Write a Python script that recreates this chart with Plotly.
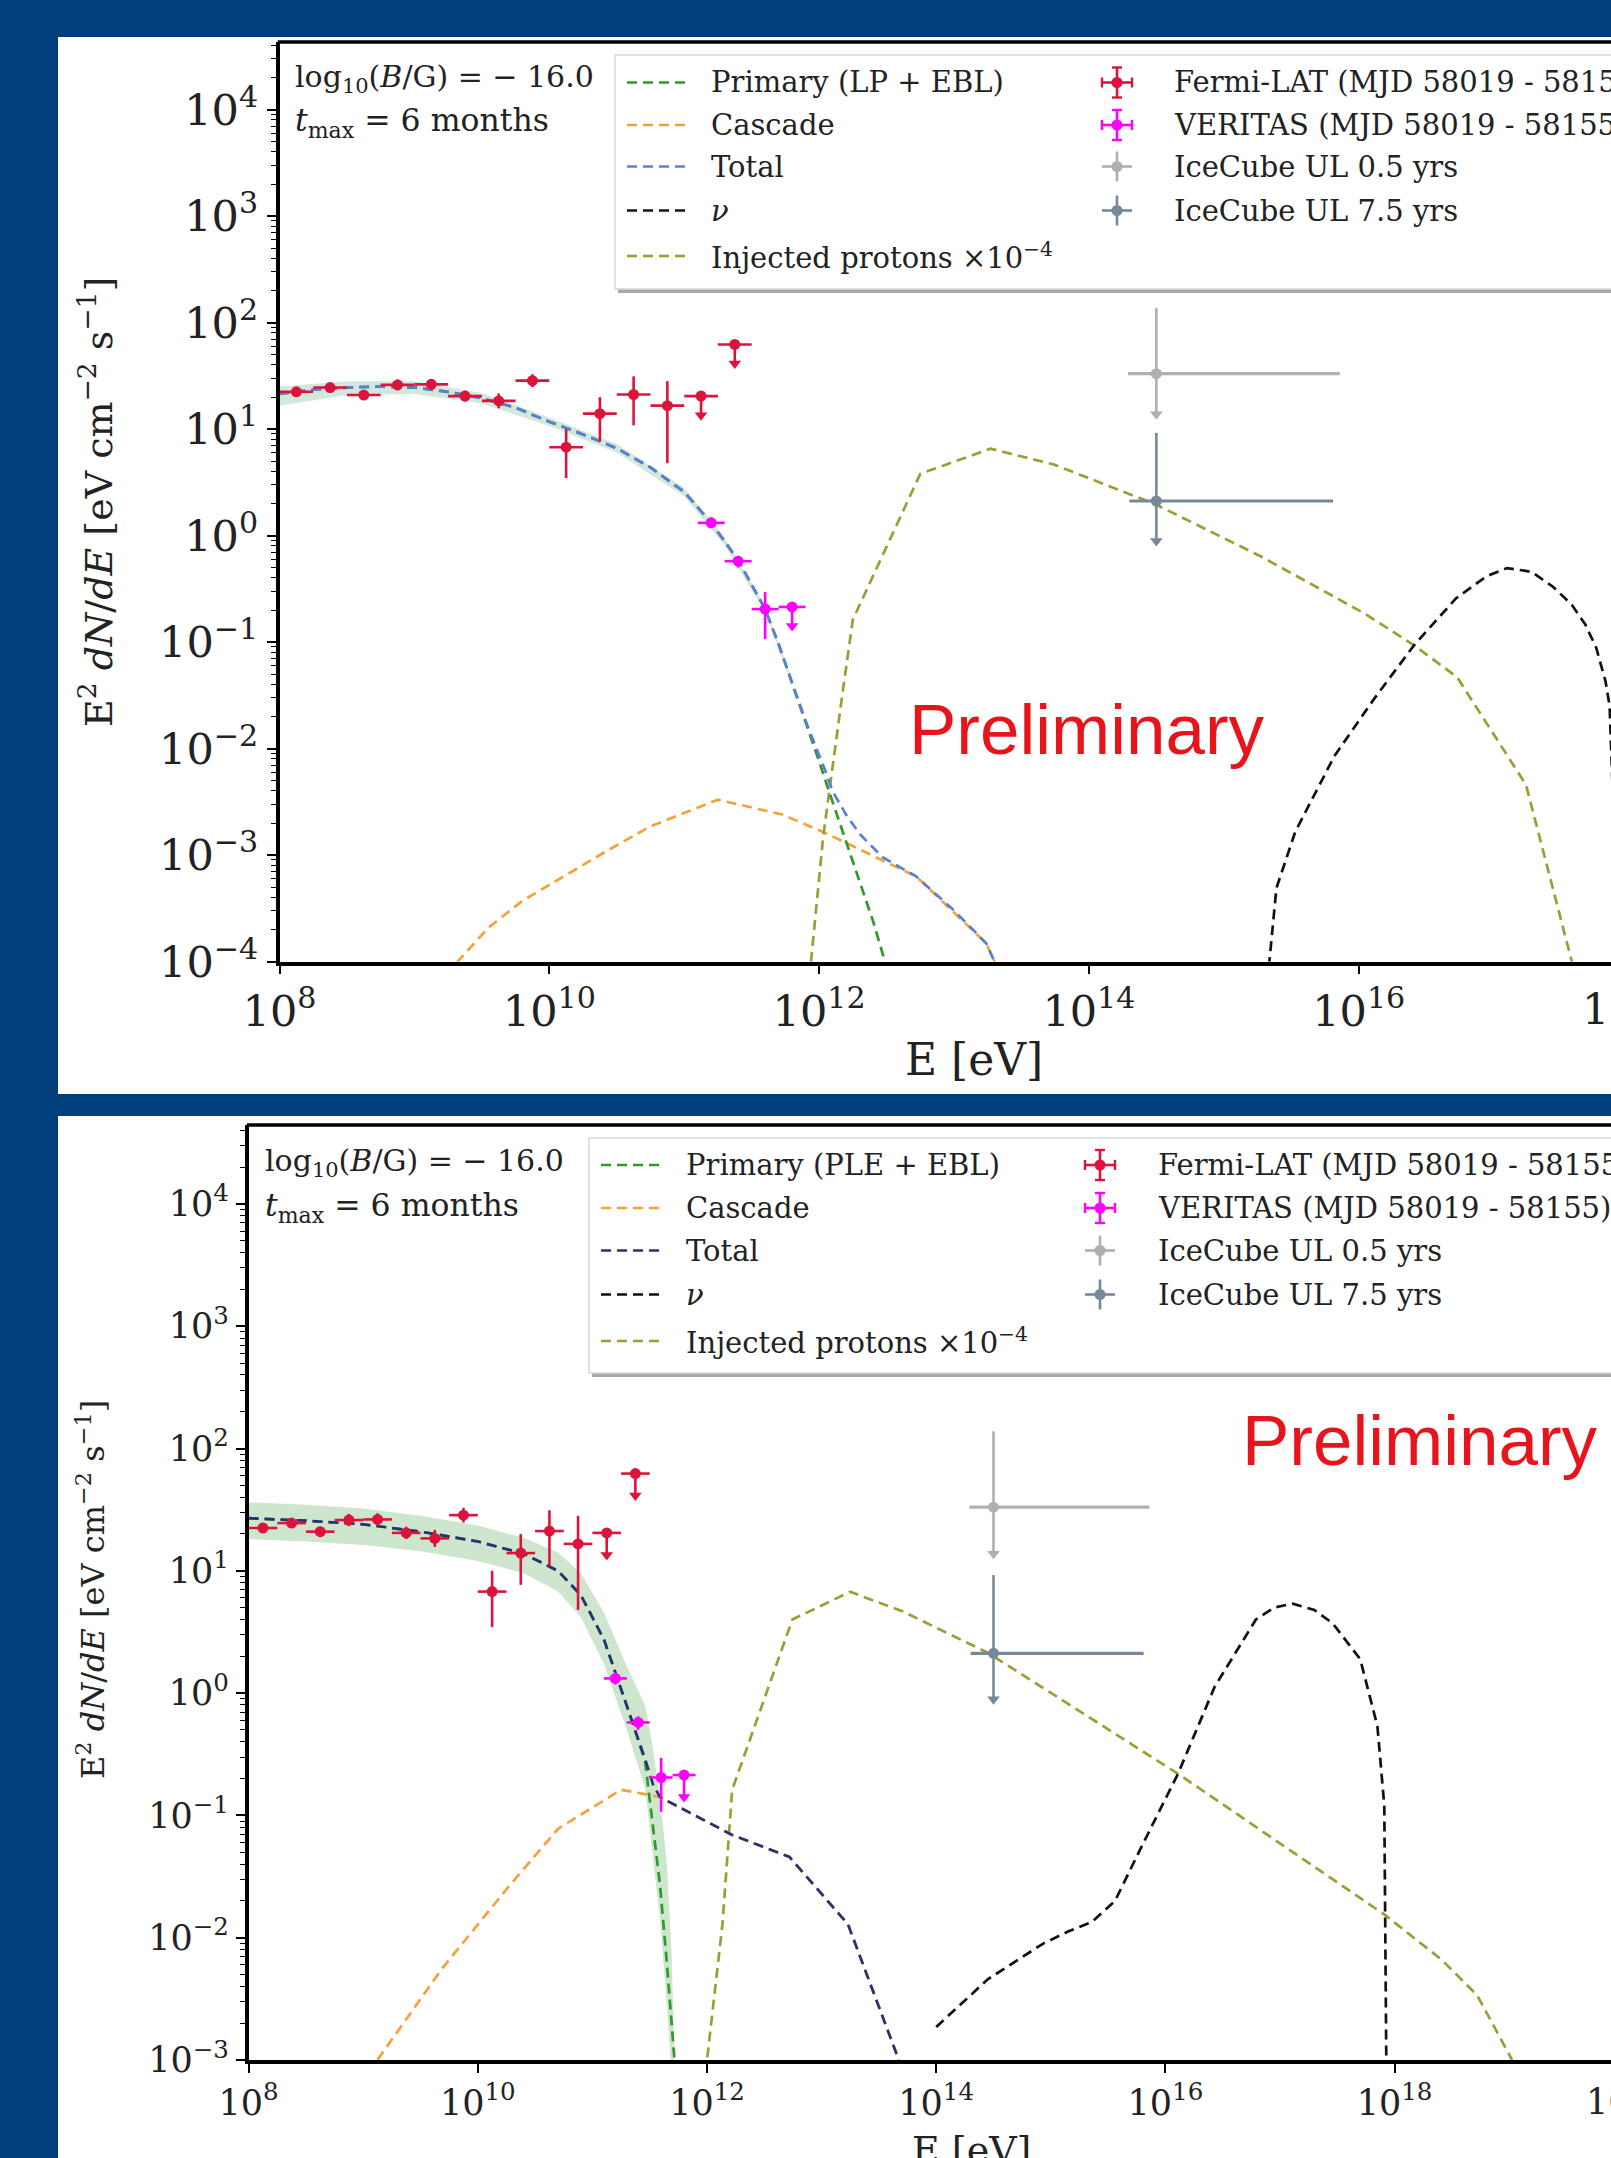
import numpy as np
import plotly.graph_objects as go

W, H = 1611, 2158
BG = '#003f7c'
SERIF = 'DejaVu Serif'

# ---------------- measured data (log10 values) ----------------
fermi_logE = [8.125, 8.375, 8.625, 8.875, 9.125, 9.375, 9.625, 9.875,
              10.125, 10.375, 10.625, 10.875, 11.125, 11.375]
fermi_logF = [1.35, 1.39, 1.32, 1.415, 1.42, 1.31, 1.265, 1.455,
              0.83, 1.145, 1.325, 1.22, 1.31, 1.795]
fermi_up = [0.04, 0.04, 0.04, 0.05, 0.05, 0.05, 0.07, 0.06, 0.17, 0.155, 0.17, 0.23, 0.0, 0.0]
fermi_dn = [0.04, 0.04, 0.04, 0.05, 0.05, 0.05, 0.07, 0.06, 0.29, 0.26, 0.29, 0.54, 0.18, 0.18]
fermi_isUL = [0] * 12 + [1, 1]
fermi_halfbin = 0.125

veritas_logE = [11.2, 11.4, 11.6, 11.8]
veritas_logF = [0.12, -0.24, -0.69, -0.67]
veritas_up = [0.05, 0.05, 0.16, 0.0]
veritas_dn = [0.05, 0.06, 0.28, 0.18]
veritas_isUL = [0, 0, 0, 1]
veritas_halfbin = 0.1

icecube_names = ['IceCube UL 0.5 yrs', 'IceCube UL 7.5 yrs']
icecube_logE = [14.5, 14.5]
icecube_logE_lo = [14.29, 14.30]
icecube_logE_hi = [15.86, 15.81]
icecube_logF = [1.52, 0.325]
icecube_logF_top = [2.14, 0.965]
icecube_logF_tip = [1.14, -0.05]

# ---- top panel (LP model) ----
lp_prim_logE = [8.0, 8.25, 8.5, 8.75, 9.0, 9.25, 9.5, 9.75, 10.0, 10.25, 10.5, 10.75, 11.0,
                11.2, 11.4, 11.6, 11.7, 11.8, 11.9, 12.0, 12.1, 12.2, 12.3, 12.4, 12.5]
lp_prim_logF = [1.33, 1.37, 1.39, 1.40, 1.39, 1.35, 1.29, 1.20, 1.07, 0.95, 0.82, 0.64, 0.41,
                0.12, -0.23, -0.69, -1.02, -1.38, -1.75, -2.12, -2.5, -2.88, -3.25, -3.62, -4.05]
lp_tot_logE = [8.0, 8.25, 8.5, 8.75, 9.0, 9.25, 9.5, 9.75, 10.0, 10.25, 10.5, 10.75, 11.0,
               11.2, 11.4, 11.6, 11.7, 11.8, 11.9, 12.0, 12.05, 12.1, 12.2, 12.3, 12.47, 12.72,
               13.0, 13.24, 13.30, 13.33]
lp_tot_logF = [1.33, 1.37, 1.39, 1.40, 1.39, 1.35, 1.29, 1.20, 1.07, 0.95, 0.82, 0.64, 0.41,
               0.12, -0.23, -0.69, -1.02, -1.38, -1.74, -2.06, -2.22, -2.40, -2.62, -2.80, -3.02, -3.2,
               -3.52, -3.83, -4.0, -4.3]
lp_band_logE = [8.0, 8.5, 9.0, 9.5, 10.0, 10.5, 11.0, 11.3, 11.6, 11.8]
lp_band_hi = [1.40, 1.45, 1.45, 1.34, 1.11, 0.86, 0.45, -0.02, -0.66, -1.35]
lp_band_lo = [1.22, 1.32, 1.33, 1.24, 1.03, 0.78, 0.37, -0.09, -0.72, -1.41]
lp_casc_logE = [9.25, 9.32, 9.55, 9.8, 10.0, 10.4, 10.75, 11.25, 11.73, 12.06, 12.47, 12.72, 13.24, 13.30, 13.33]
lp_casc_logF = [-4.3, -4.0, -3.68, -3.43, -3.28, -2.98, -2.73, -2.48, -2.62, -2.80, -3.05, -3.2, -3.83, -4.0, -4.3]
lp_prot_logE = [11.9, 11.94, 12.03, 12.105, 12.18, 12.25, 12.75, 13.27, 13.74, 14.49, 15.28,
                16.04, 16.41, 16.73, 17.24, 17.58, 17.62]
lp_prot_logF = [-4.6, -4.0, -2.83, -2.1, -1.42, -0.79, 0.58, 0.816, 0.668, 0.296, -0.199,
                -0.729, -1.03, -1.33, -2.34, -4.0, -4.3]
lp_nu_logE = [15.30, 15.336, 15.39, 15.53, 15.82, 16.11, 16.41, 16.72, 16.95, 17.10, 17.28,
              17.44, 17.58, 17.68, 17.76, 17.83, 17.86, 17.88, 17.92]
lp_nu_logF = [-4.5, -4.0, -3.31, -2.78, -2.07, -1.54, -1.03, -0.59, -0.38, -0.305, -0.34,
              -0.48, -0.65, -0.835, -1.05, -1.37, -1.6, -2.3, -4.5]

# ---- bottom panel (PLE model) ----
ple_prim_logE = [8.0, 8.5, 9.0, 9.5, 10.0, 10.4, 10.7, 10.9, 11.1, 11.3, 11.46, 11.52, 11.59,
                 11.65, 11.715, 11.75]
ple_prim_logF = [1.43, 1.41, 1.38, 1.32, 1.24, 1.14, 1.00, 0.80, 0.44, -0.10, -0.56, -1.05, -1.57,
                 -2.21, -3.0, -3.4]
ple_tot_logE = [8.0, 8.5, 9.0, 9.5, 10.0, 10.4, 10.7, 10.9, 11.1, 11.3, 11.46, 11.53, 11.59,
                12.22, 12.72, 13.23, 13.67, 13.72]
ple_tot_logF = [1.43, 1.41, 1.38, 1.32, 1.24, 1.14, 1.00, 0.80, 0.44, -0.10, -0.54, -0.75, -0.85,
                -1.16, -1.34, -1.89, -2.99, -3.2]
ple_band_logE = [8.0, 8.5, 9.0, 9.5, 10.0, 10.4, 10.7, 10.9, 11.1, 11.3, 11.46, 11.52, 11.59,
                 11.65, 11.69, 11.72]
ple_band_hi = [1.56, 1.54, 1.51, 1.45, 1.37, 1.27, 1.15, 0.98, 0.66, 0.22, -0.10, -0.40, -0.85,
               -1.40, -2.10, -3.10]
ple_band_lo = [1.26, 1.24, 1.21, 1.16, 1.08, 0.98, 0.83, 0.62, 0.24, -0.30, -0.78, -1.28, -1.85,
               -2.55, -3.10, -3.50]
ple_casc_logE = [9.05, 9.124, 9.69, 10.28, 10.70, 11.25, 11.59, 12.22, 12.72, 13.23, 13.67, 13.72]
ple_casc_logF = [-3.25, -3.0, -2.25, -1.57, -1.11, -0.79, -0.85, -1.16, -1.34, -1.89, -2.99, -3.2]
ple_prot_logE = [11.96, 12.0, 12.135, 12.22, 12.745, 13.25, 13.71, 14.45, 16.11, 17.02, 17.91,
                 18.41, 18.72, 19.02, 19.06]
ple_prot_logF = [-3.5, -3.0, -1.89, -0.79, 0.602, 0.828, 0.667, 0.33, -0.66, -1.24, -1.81,
                 -2.18, -2.47, -2.99, -3.3]
ple_nu_logE = [14.0, 14.45, 14.93, 15.15, 15.36, 15.56, 15.80, 16.11, 16.43, 16.79, 16.95, 17.11,
               17.30, 17.46, 17.70, 17.85, 17.91, 17.925, 17.93]
ple_nu_logF = [-2.73, -2.34, -2.05, -1.95, -1.87, -1.70, -1.24, -0.66, 0.052, 0.602, 0.70, 0.731,
               0.68, 0.57, 0.278, -0.27, -0.92, -2.99, -3.3]

# ---------------- layout geometry (pixels) ----------------
PANELS = [
    dict(xa='x', ya='y', left=279.5, top=42.0, bottom=961.6, ppd_x=134.9, ymin=-4, ppd_y=106.5,
         tickfs=43, model='LP', total_color='#5b7fd8', band_color='rgba(70,160,110,0.24)',
         white=(58, 37, 1094)),
    dict(xa='x2', ya='y2', left=248.6, top=1125.0, bottom=2060.0, ppd_x=114.6, ymin=-3, ppd_y=122.3,
         tickfs=35, model='PLE', total_color='#2a2f78', band_color='rgba(60,160,60,0.26)',
         white=(58, 1116, H + 5)),
]
GREEN, ORANGE, BLACK, OLIVE = '#2e9a2e', '#f7a13a', '#111111', '#9d9d35'
CRIMSON, MAGENTA, ICE1, ICE2 = '#dc143c', '#ff00ff', '#b0b0b0', '#778899'
DASH = '10px,6px'

def P(x):
    return x / W

def Q(y):
    return 1 - y / H

fig = go.Figure()
shapes = []
annotations = []

def lin(a):
    return [10 ** v for v in a]

for k, pn in enumerate(PANELS):
    xa, ya = pn['xa'], pn['ya']
    if pn['model'] == 'LP':
        prim = (lp_prim_logE, lp_prim_logF); tot = (lp_tot_logE, lp_tot_logF)
        band = (lp_band_logE, lp_band_hi, lp_band_lo)
        casc = (lp_casc_logE, lp_casc_logF); prot = (lp_prot_logE, lp_prot_logF)
        nu = (lp_nu_logE, lp_nu_logF)
    else:
        prim = (ple_prim_logE, ple_prim_logF); tot = (ple_tot_logE, ple_tot_logF)
        band = (ple_band_logE, ple_band_hi, ple_band_lo)
        casc = (ple_casc_logE, ple_casc_logF); prot = (ple_prot_logE, ple_prot_logF)
        nu = (ple_nu_logE, ple_nu_logF)

    bx = lin(band[0]) + lin(band[0][::-1])
    by = lin(band[1]) + lin(band[2][::-1])
    fig.add_trace(go.Scatter(x=bx, y=by, fill='toself', fillcolor=pn['band_color'],
                             line=dict(width=0), mode='lines', xaxis=xa, yaxis=ya,
                             hoverinfo='skip', showlegend=False))
    for (ex, ey), col in [(casc, ORANGE), (prot, OLIVE), (nu, BLACK), (prim, GREEN),
                          (tot, pn['total_color'])]:
        fig.add_trace(go.Scatter(x=lin(ex), y=lin(ey), mode='lines', xaxis=xa, yaxis=ya,
                                 line=dict(color=col, width=2.7, dash=DASH), showlegend=False))

    for le, lf, up, dn, isul, hb, col in [
            (fermi_logE, fermi_logF, fermi_up, fermi_dn, fermi_isUL, fermi_halfbin, CRIMSON),
            (veritas_logE, veritas_logF, veritas_up, veritas_dn, veritas_isUL, veritas_halfbin, MAGENTA)]:
        x = lin(le); y = lin(lf)
        ex_p = [10 ** (e + hb) - 10 ** e for e in le]
        ex_m = [10 ** e - 10 ** (e - hb) for e in le]
        ey_p = [10 ** (f + u) - 10 ** f for f, u in zip(lf, up)]
        ey_m = [10 ** f - 10 ** (f - d) for f, d in zip(lf, dn)]
        fig.add_trace(go.Scatter(
            x=x, y=y, mode='markers', xaxis=xa, yaxis=ya, showlegend=False,
            marker=dict(color=col, size=11, line=dict(width=0)),
            error_x=dict(type='data', symmetric=False, array=ex_p, arrayminus=ex_m,
                         color=col, thickness=2.6, width=0),
            error_y=dict(type='data', symmetric=False, array=ey_p, arrayminus=ey_m,
                         color=col, thickness=2.6, width=0)))
        ulx = [10 ** e for e, u in zip(le, isul) if u]
        uly = [10 ** (f - d) for f, d, u in zip(lf, dn, isul) if u]
        fig.add_trace(go.Scatter(x=ulx, y=uly, mode='markers', xaxis=xa, yaxis=ya, showlegend=False,
                                 marker=dict(symbol='triangle-down', color=col, size=11,
                                             line=dict(width=0))))
    for i in range(2):
        col = ICE1 if i == 0 else ICE2
        e, f = icecube_logE[i], icecube_logF[i]
        fig.add_trace(go.Scatter(
            x=[10 ** e], y=[10 ** f], mode='markers', xaxis=xa, yaxis=ya, showlegend=False,
            marker=dict(color=col, size=11),
            error_x=dict(type='data', symmetric=False, array=[10 ** icecube_logE_hi[i] - 10 ** e],
                         arrayminus=[10 ** e - 10 ** icecube_logE_lo[i]], color=col,
                         thickness=3.2, width=0),
            error_y=dict(type='data', symmetric=False, array=[10 ** icecube_logF_top[i] - 10 ** f],
                         arrayminus=[10 ** f - 10 ** icecube_logF_tip[i]], color=col,
                         thickness=2.6, width=0)))
        fig.add_trace(go.Scatter(x=[10 ** e], y=[10 ** icecube_logF_tip[i]], mode='markers',
                                 xaxis=xa, yaxis=ya, showlegend=False,
                                 marker=dict(symbol='triangle-down', color=col, size=11)))

# ---------------- axes ----------------
def pow_label(n):
    return '10<sup>%s</sup>' % (str(n) if n >= 0 else '\u2212' + str(-n))

layout_axes = {}
for k, pn in enumerate(PANELS):
    sfx = '' if k == 0 else '2'
    xmax = 8 + (W - pn['left']) / pn['ppd_x']
    ymax = pn['ymin'] + (pn['bottom'] - pn['top']) / pn['ppd_y']
    xt = [e for e in range(8, int(xmax) + 1, 2)]
    yt = [e for e in range(pn['ymin'], int(ymax) + 1)]
    common = dict(type='log', showline=True, linecolor='black', linewidth=3.5, ticks='outside',
                  ticklen=9, tickwidth=2, tickcolor='black', showgrid=False, zeroline=False,
                  mirror=False, automargin=False,
                  tickfont=dict(family=SERIF, size=pn['tickfs'], color='#222222'))
    layout_axes['xaxis' + sfx] = dict(common, domain=[P(pn['left']), 1.0], range=[8, xmax],
                                      tickmode='array', tickvals=[10 ** e for e in xt],
                                      ticktext=[pow_label(e) for e in xt], anchor='y' + sfx)
    layout_axes['yaxis' + sfx] = dict(common, domain=[Q(pn['bottom']), Q(pn['top'])],
                                      range=[pn['ymin'], ymax], anchor='x' + sfx,
                                      tickmode='array', tickvals=[10 ** e for e in yt],
                                      ticktext=[pow_label(e) for e in yt],
                                      minor=dict(ticks='outside', ticklen=5, tickwidth=1.2,
                                                 tickcolor='black', dtick='D1', showgrid=False))
    wx0, wy0, wy1 = pn['white']
    shapes.insert(0, dict(type='rect', xref='paper', yref='paper', x0=P(wx0), x1=1.01,
                          y0=Q(wy1), y1=Q(wy0), fillcolor='white', line=dict(width=0),
                          layer='below'))
    shapes.append(dict(type='line', xref='paper', yref='paper', x0=P(pn['left'] - 1.7), x1=1.01,
                       y0=Q(pn['top']), y1=Q(pn['top']), line=dict(color='black', width=3.5),
                       layer='above'))
    last = 18 if k == 0 else 20
    xl = pn['left'] + (last - 8) * pn['ppd_x']
    annotations.append(dict(xref='paper', yref='paper', x=P(xl), y=Q(pn['bottom'] + 14),
                            xanchor='center', yanchor='top', showarrow=False,
                            text=pow_label(last),
                            font=dict(family=SERIF, size=pn['tickfs'], color='#222222')))

# ---------------- text elements ----------------
def txt(x, y, s, size, color='#222222', xanchor='left', family=SERIF, angle=0):
    annotations.append(dict(xref='paper', yref='paper', x=P(x), y=Q(y), text=s, showarrow=False,
                            xanchor=xanchor, yanchor='middle', textangle=angle,
                            font=dict(family=family, size=size, color=color)))

ytitle = 'E<sup>2</sup> <i>dN</i>/<i>dE</i> [eV cm<sup>\u22122</sup> s<sup>\u22121</sup>]'
txt(96, 502, ytitle, 38, xanchor='center', angle=-90)
txt(91, 1590, ytitle, 32, xanchor='center', angle=-90)
txt(974, 1059, 'E [eV]', 44, xanchor='center')
txt(971, 2150, 'E [eV]', 38, xanchor='center')

txt(293, 79, 'log<sub>10</sub>(<i>B</i>/G) = \u2212 16.0', 30)
txt(293, 123, '<i>t</i><sub>max</sub> = 6 months', 31.5)
txt(263, 1163, 'log<sub>10</sub>(<i>B</i>/G) = \u2212 16.0', 30)
txt(263, 1207, '<i>t</i><sub>max</sub> = 6 months', 31.5)

txt(1087, 730, 'Preliminary', 71, color='#e8141c', xanchor='center',
    family='Liberation Sans, Arial')
txt(1420, 1440, 'Preliminary', 71, color='#e8141c', xanchor='center',
    family='Liberation Sans, Arial')

# ---------------- legends ----------------
def legend(box, col1x, col1_text_x, rows1, labels1, colors1, col2x, col2_text_x, labels2, colors2):
    x0, y0, y1 = box
    shapes.append(dict(type='rect', xref='paper', yref='paper', x0=P(x0 + 3), x1=1.02,
                       y0=Q(y1 + 4), y1=Q(y0 + 4), fillcolor='#a8a8a8', line=dict(width=0),
                       layer='above'))
    shapes.append(dict(type='rect', xref='paper', yref='paper', x0=P(x0), x1=1.02,
                       y0=Q(y1), y1=Q(y0), fillcolor='white', line=dict(color='#d8d8d8', width=1.5),
                       layer='above'))
    for yy, lab, c in zip(rows1, labels1, colors1):
        shapes.append(dict(type='line', xref='paper', yref='paper', x0=P(col1x[0]), x1=P(col1x[1]),
                           y0=Q(yy), y1=Q(yy), line=dict(color=c, width=2.6, dash=DASH),
                           layer='above'))
        txt(col1_text_x, yy, lab, 29)
    for j, (yy, lab, c) in enumerate(zip(rows1[:4], labels2, colors2)):
        arm = 15
        shapes.append(dict(type='line', xref='paper', yref='paper', x0=P(col2x - arm), x1=P(col2x + arm),
                           y0=Q(yy), y1=Q(yy), line=dict(color=c, width=2.6), layer='above'))
        shapes.append(dict(type='line', xref='paper', yref='paper', x0=P(col2x), x1=P(col2x),
                           y0=Q(yy - arm), y1=Q(yy + arm), line=dict(color=c, width=2.6), layer='above'))
        if j < 2:
            for s in (-1, 1):
                shapes.append(dict(type='line', xref='paper', yref='paper',
                                   x0=P(col2x + s * arm), x1=P(col2x + s * arm),
                                   y0=Q(yy - 5), y1=Q(yy + 5), line=dict(color=c, width=2.4),
                                   layer='above'))
                shapes.append(dict(type='line', xref='paper', yref='paper',
                                   x0=P(col2x - 5), x1=P(col2x + 5),
                                   y0=Q(yy + s * arm), y1=Q(yy + s * arm),
                                   line=dict(color=c, width=2.4), layer='above'))
        r = 5.5
        shapes.append(dict(type='circle', xref='paper', yref='paper', x0=P(col2x - r), x1=P(col2x + r),
                           y0=Q(yy + r), y1=Q(yy - r), fillcolor=c, line=dict(width=0), layer='above'))
        txt(col2_text_x, yy, lab, 29)

labels2 = ['Fermi-LAT (MJD 58019 - 58155)', 'VERITAS (MJD 58019 - 58155)'] + icecube_names
colors2 = [CRIMSON, MAGENTA, ICE1, ICE2]
legend((615, 55, 289), (627, 687), 709, [82.5, 125, 166.5, 210.5, 256],
       ['Primary (LP + EBL)', 'Cascade', 'Total', '<i>\u03bd</i>', 'Injected protons \u00d710<sup>\u22124</sup>'],
       [GREEN, ORANGE, PANELS[0]['total_color'], BLACK, OLIVE], 1117, 1172, labels2, colors2)
legend((589, 1138, 1373), (601, 661), 684, [1165, 1208, 1250.5, 1294.5, 1341],
       ['Primary (PLE + EBL)', 'Cascade', 'Total', '<i>\u03bd</i>', 'Injected protons \u00d710<sup>\u22124</sup>'],
       [GREEN, ORANGE, PANELS[1]['total_color'], BLACK, OLIVE], 1100, 1156, labels2, colors2)

fig.update_layout(width=W, height=H, autosize=False, margin=dict(l=0, r=0, t=0, b=0, pad=0),
                  paper_bgcolor=BG, plot_bgcolor='rgba(0,0,0,0)', showlegend=False,
                  shapes=shapes, annotations=annotations, **layout_axes)
fig.write_html('out.html')
